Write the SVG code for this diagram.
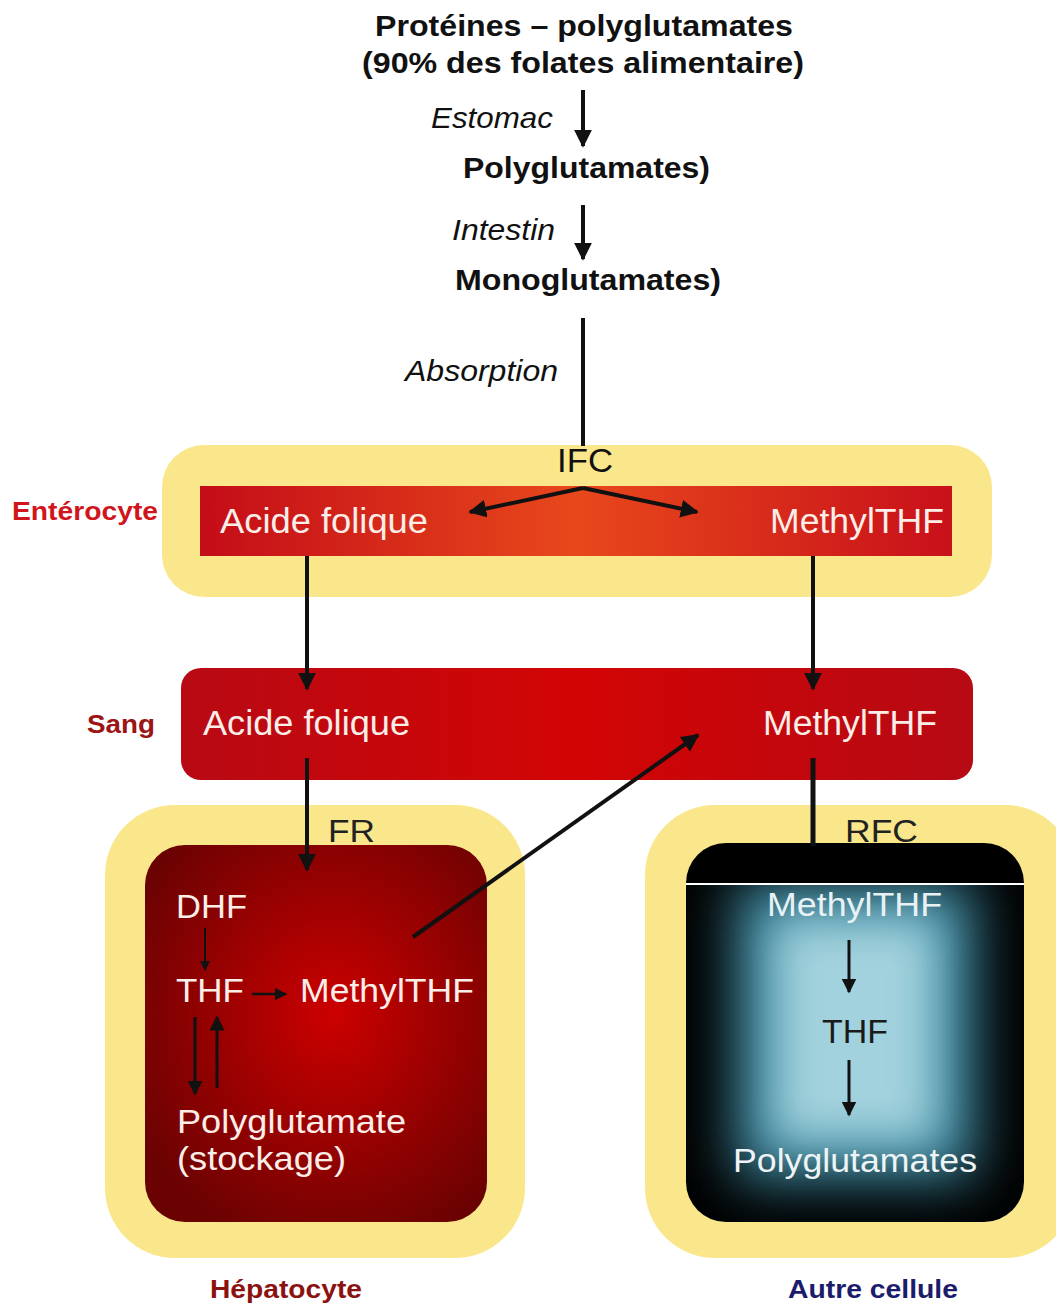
<svg xmlns="http://www.w3.org/2000/svg" width="1056" height="1306" viewBox="0 0 1056 1306">
<defs>
<style>
.t{font-family:"Liberation Sans",Arial,sans-serif}
.b{font-weight:bold}
.i{font-style:italic}
.w{fill:#fbeee8}
.ink{stroke:#111;fill:none}
</style>
<marker id="ah" viewBox="0 0 10 10" refX="9" refY="5" markerWidth="4.5" markerHeight="4.5" orient="auto" markerUnits="strokeWidth"><path d="M0,0 L10,5 L0,10 z" fill="#111"/></marker>
<marker id="ahs" viewBox="0 0 10 10" refX="9" refY="5" markerWidth="5" markerHeight="5" orient="auto" markerUnits="strokeWidth"><path d="M0,0 L10,5 L0,10 z" fill="#111"/></marker>
<linearGradient id="gEnt" x1="0" y1="0" x2="1" y2="0">
<stop offset="0" stop-color="#c40c18"/><stop offset="0.5" stop-color="#e8481c"/><stop offset="1" stop-color="#c8101a"/>
</linearGradient>
<linearGradient id="gSang" x1="0" y1="0" x2="1" y2="0">
<stop offset="0" stop-color="#b80a14"/><stop offset="0.5" stop-color="#d20404"/><stop offset="1" stop-color="#b60a14"/>
</linearGradient>
<radialGradient id="gHep" cx="0.55" cy="0.45" r="0.65">
<stop offset="0" stop-color="#cc0000"/><stop offset="1" stop-color="#6a0202"/>
</radialGradient>
<filter id="blur" x="-50%" y="-50%" width="200%" height="200%"><feGaussianBlur stdDeviation="28"/></filter>
<filter id="blur2" x="-50%" y="-50%" width="200%" height="200%"><feGaussianBlur stdDeviation="22"/></filter>
<clipPath id="cAut"><rect x="686" y="885" width="338" height="337" rx="0"/></clipPath>
<clipPath id="cAutR"><rect x="686" y="843" width="338" height="379" rx="40"/></clipPath>
</defs>
<rect width="1056" height="1306" fill="#fff"/>

<g id="header">
<text class="t b" x="375" y="36" font-size="30" textLength="418" lengthAdjust="spacingAndGlyphs" fill="#111">Protéines – polyglutamates</text>
<text class="t b" x="362" y="73" font-size="30" textLength="442" lengthAdjust="spacingAndGlyphs" fill="#111">(90% des folates alimentaire)</text>
<text class="t i" x="431" y="128" font-size="29" textLength="122" lengthAdjust="spacingAndGlyphs" fill="#111">Estomac</text>
<text class="t b" x="463" y="178" font-size="29" textLength="247" lengthAdjust="spacingAndGlyphs" fill="#111">Polyglutamates)</text>
<text class="t i" x="452" y="240" font-size="29" textLength="103" lengthAdjust="spacingAndGlyphs" fill="#111">Intestin</text>
<text class="t b" x="455" y="290" font-size="29" textLength="266" lengthAdjust="spacingAndGlyphs" fill="#111">Monoglutamates)</text>
<text class="t i" x="405" y="381" font-size="29" textLength="153" lengthAdjust="spacingAndGlyphs" fill="#111">Absorption</text>
</g>

<g id="enterocyte">
<rect x="162" y="445" width="830" height="152" rx="42" fill="#fae78c"/>
<rect x="200" y="486" width="752" height="70" fill="url(#gEnt)"/>
<text class="t" x="557" y="472" font-size="33" textLength="56" lengthAdjust="spacingAndGlyphs" fill="#111">IFC</text>
<text class="t w" x="220" y="533" font-size="35" textLength="208" lengthAdjust="spacingAndGlyphs">Acide folique</text>
<text class="t w" x="770" y="533" font-size="35" textLength="174" lengthAdjust="spacingAndGlyphs">MethylTHF</text>
<text class="t b" x="12" y="520" font-size="25" textLength="146" lengthAdjust="spacingAndGlyphs" fill="#d0161c">Entérocyte</text>
</g>

<g id="sang">
<rect x="181" y="668" width="792" height="112" rx="20" fill="url(#gSang)"/>
<text class="t w" x="203" y="735" font-size="35" textLength="207" lengthAdjust="spacingAndGlyphs">Acide folique</text>
<text class="t w" x="763" y="735" font-size="35" textLength="174" lengthAdjust="spacingAndGlyphs">MethylTHF</text>
<text class="t b" x="87" y="733" font-size="25" textLength="68" lengthAdjust="spacingAndGlyphs" fill="#9c1414">Sang</text>
</g>

<g id="hepatocyte">
<rect x="105" y="805" width="420" height="453" rx="70" fill="#fae78c"/>
<rect x="145" y="845" width="342" height="377" rx="40" fill="url(#gHep)"/>
<text class="t w" x="176" y="918" font-size="33" textLength="71" lengthAdjust="spacingAndGlyphs">DHF</text>
<text class="t w" x="176" y="1002" font-size="33" textLength="68" lengthAdjust="spacingAndGlyphs">THF</text>
<text class="t w" x="300" y="1002" font-size="33" textLength="174" lengthAdjust="spacingAndGlyphs">MethylTHF</text>
<text class="t w" x="177" y="1133" font-size="33" textLength="229" lengthAdjust="spacingAndGlyphs">Polyglutamate</text>
<text class="t w" x="177" y="1170" font-size="33" textLength="169" lengthAdjust="spacingAndGlyphs">(stockage)</text>
<text class="t b" x="210" y="1298" font-size="26" textLength="152" lengthAdjust="spacingAndGlyphs" fill="#8c1212">Hépatocyte</text>
</g>

<g id="autre-cellule">
<rect x="645" y="805" width="430" height="453" rx="70" fill="#fae78c"/>
<rect x="686" y="843" width="338" height="379" rx="40" fill="#000"/>
<g clip-path="url(#cAutR)">
<g clip-path="url(#cAut)">
<rect x="735" y="880" width="240" height="300" fill="#3f8ea6" filter="url(#blur)"/>
<rect x="775" y="920" width="160" height="220" fill="#a2d2dd" filter="url(#blur2)"/>
</g>
</g>
<line x1="686" y1="884" x2="1024" y2="884" stroke="#fff" stroke-width="2"/>
<text class="t" x="767" y="916" font-size="33" textLength="175" lengthAdjust="spacingAndGlyphs" fill="#e8f2f4">MethylTHF</text>
<text class="t" x="822" y="1043" font-size="33" textLength="66" lengthAdjust="spacingAndGlyphs" fill="#1a1a1a">THF</text>
<text class="t" x="733" y="1172" font-size="33" textLength="244" lengthAdjust="spacingAndGlyphs" fill="#eef4f6">Polyglutamates</text>
<text class="t" x="845" y="842" font-size="31" textLength="73" lengthAdjust="spacingAndGlyphs" fill="#222">RFC</text>
<text class="t b" x="788" y="1298" font-size="26" textLength="170" lengthAdjust="spacingAndGlyphs" fill="#1c1c6c">Autre cellule</text>
</g>

<g id="connectors">
<line class="ink" x1="583" y1="90" x2="583" y2="146" stroke-width="4" marker-end="url(#ah)"/>
<line class="ink" x1="583" y1="205" x2="583" y2="259" stroke-width="4" marker-end="url(#ah)"/>
<line class="ink" x1="583" y1="318" x2="583" y2="446" stroke-width="4"/>
<line class="ink" x1="583" y1="488" x2="470" y2="512" stroke-width="4" marker-end="url(#ah)"/>
<line class="ink" x1="583" y1="488" x2="697" y2="512" stroke-width="4" marker-end="url(#ah)"/>
<line class="ink" x1="307" y1="556" x2="307" y2="689" stroke-width="4" marker-end="url(#ah)"/>
<line class="ink" x1="813" y1="556" x2="813" y2="689" stroke-width="4" marker-end="url(#ah)"/>
<line class="ink" x1="307" y1="758" x2="307" y2="870" stroke-width="4" marker-end="url(#ah)"/>
<line class="ink" x1="813" y1="758" x2="813" y2="846" stroke-width="5"/>
<line class="ink" x1="413" y1="937" x2="698" y2="735" stroke-width="4" marker-end="url(#ah)"/>
<line class="ink" x1="205" y1="928" x2="205" y2="970" stroke-width="2" marker-end="url(#ahs)"/>
<line class="ink" x1="252" y1="994" x2="286" y2="994" stroke-width="2.5" marker-end="url(#ahs)"/>
<line class="ink" x1="195" y1="1017" x2="195" y2="1094" stroke-width="3" marker-end="url(#ahs)"/>
<line class="ink" x1="217" y1="1088" x2="217" y2="1017" stroke-width="3" marker-end="url(#ahs)"/>
<line class="ink" x1="849" y1="940" x2="849" y2="992" stroke-width="3" marker-end="url(#ahs)"/>
<line class="ink" x1="849" y1="1060" x2="849" y2="1115" stroke-width="3" marker-end="url(#ahs)"/>
<text class="t" x="328" y="842" font-size="31" textLength="47" lengthAdjust="spacingAndGlyphs" fill="#222">FR</text>
</g>
</svg>
